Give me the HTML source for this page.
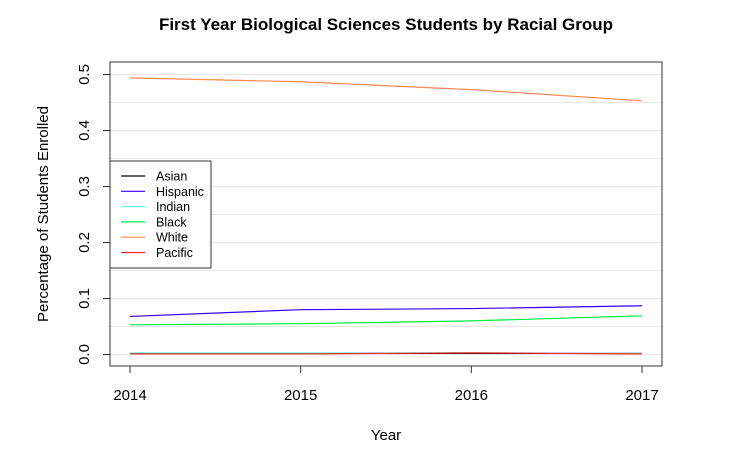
<!DOCTYPE html>
<html><head><meta charset="utf-8"><style>
body{margin:0;background:#fff}
svg text{font-family:"Liberation Sans",Arial,sans-serif}
</style></head><body>
<svg id="c" width="752" height="465" xmlns="http://www.w3.org/2000/svg">
<text x="386" y="30" text-anchor="middle" font-size="17" font-weight="bold">First Year Biological Sciences Students by Racial Group</text>
<text x="386" y="440" text-anchor="middle" font-size="15">Year</text>
<text transform="translate(48,214) rotate(-90)" text-anchor="middle" font-size="15">Percentage of Students Enrolled</text>
<g id="grid"></g><g id="series"></g><g id="axes"></g><g id="legend"></g>
</svg>
<script>
const years=[2014,2015,2016,2017];
const yTicks=[0,0.1,0.2,0.3,0.4,0.5];
const seriesNames=["Asian","Hispanic","Indian","Black","White","Pacific"];
const seriesColors=["#000000","#3300ff","#66ffdd","#00ee44","#ff8855","#ff2222"];
const asian=[0.002,0.002,0.002,0.002];
const hispanic=[0.068,0.080,0.082,0.087];
const indian=[0.003,0.003,0.003,0.002];
const black=[0.053,0.055,0.060,0.069];
const white=[0.494,0.487,0.473,0.453];
const pacific=[0.001,0.001,0.003,0.001];
const allSeries=[asian,hispanic,indian,black,white,pacific];
const NS="http://www.w3.org/2000/svg";
const L=110,R=662,T=62,B=366;
const xs=y=>130+(y-2014)*(642-130)/3;
const ys=v=>354.5-v*560;
function mk(t,a,p){const e=document.createElementNS(NS,t);for(const k in a)e.setAttribute(k,a[k]);p.appendChild(e);return e;}
const grid=document.getElementById('grid');
for(let v=0;v<=0.5001;v+=0.05){const g=mk('line',{x1:L,x2:R,y1:ys(v),y2:ys(v),stroke:'#e6e6e6','stroke-width':1},grid);

}
const sg=document.getElementById('series');
allSeries.forEach((s,i)=>{const p=mk('polyline',{points:s.map((v,j)=>xs(years[j])+','+ys(v)).join(' '),fill:'none',stroke:seriesColors[i],'stroke-width':1.2},sg);

});
const ax=document.getElementById('axes');
const box=mk('rect',{x:L,y:T,width:R-L,height:B-T,fill:'none',stroke:'#333','stroke-width':1},ax);


years.forEach(y=>{mk('line',{x1:xs(y),x2:xs(y),y1:B,y2:B+7,stroke:'#333'},ax);
const t=mk('text',{x:xs(y),y:B+34,'text-anchor':'middle','font-size':15},ax);t.textContent=y;

});
yTicks.forEach(v=>{mk('line',{x1:L-7,x2:L,y1:ys(v),y2:ys(v),stroke:'#333'},ax);
const t=mk('text',{transform:`translate(${L-21},${ys(v)}) rotate(-90)`,'text-anchor':'middle','font-size':15},ax);t.textContent=v.toFixed(1);

});
const lg=document.getElementById('legend');


mk('rect',{x:110,y:161,width:101,height:107,fill:'#fff',stroke:'#333'},lg);
seriesNames.forEach((n,i)=>{const y=176+i*15.3;
mk('line',{x1:121,x2:145,y1:y,y2:y,stroke:seriesColors[i],'stroke-width':1.2},lg);
const t=mk('text',{x:156,y:y+4.5,'font-size':12.5},lg);t.textContent=n;

});
</script>
</body></html>
